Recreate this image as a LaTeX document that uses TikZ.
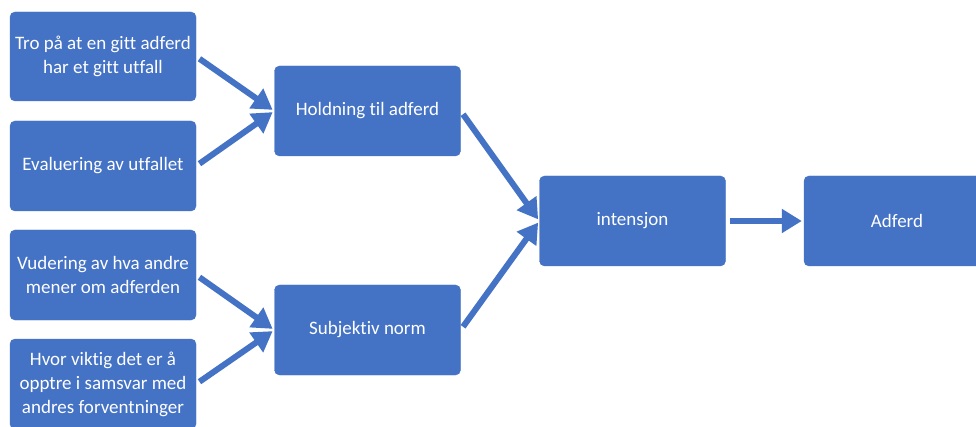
\documentclass[tikz,border=0pt]{standalone}
\usepackage{fontspec}
\setmainfont{Carlito}[Ligatures={NoCommon}]
\usetikzlibrary{arrows.meta}
\definecolor{obox}{HTML}{4472C4}
\tikzset{
  box/.style={fill=obox, draw=obox, rounded corners=5pt, minimum width=186pt, minimum height=90pt,
    inner sep=1pt, align=center, text=white, font=\fontsize{19}{24}\selectfont},
  conn/.style={draw=obox, line width=6pt, -{Triangle[width=23pt,length=20pt]}, shorten <=4pt, shorten >=2pt}
}
\begin{document}
\begin{tikzpicture}[x=1pt,y=-1pt]
\useasboundingbox[fill=white] (0,0) rectangle (976,427);
\node[box, minimum height=89pt] (b1) at (103,56.5) {Tro på at en gitt adferd\\har et gitt utfall};
\node[box] (b2) at (103,166) {Evaluering av utfallet};
\node[box] (b3) at (103,275) {Vudering av hva andre\\mener om adferden};
\node[box] (b4) at (103,384) {Hvor viktig det er å\\opptre i samsvar med\\andres forventninger};
\node[box] (hold) at (367.5,111) {Holdning til adferd};
\node[box] (subj) at (367.5,330) {Subjektiv norm};
\node[box] (int) at (632.5,221) {intensjon};
\node[box] (adf) at (897,221) {Adferd};
\draw[conn] (b1.east) -- (hold.west);
\draw[conn] (b2.east) -- (hold.west);
\draw[conn] (b3.east) -- (subj.west);
\draw[conn] (b4.east) -- (subj.west);
\draw[conn] (hold.east) -- (int.west);
\draw[conn] (subj.east) -- (int.west);
\draw[conn] (int.east) -- (adf.west);
\end{tikzpicture}
\end{document}
